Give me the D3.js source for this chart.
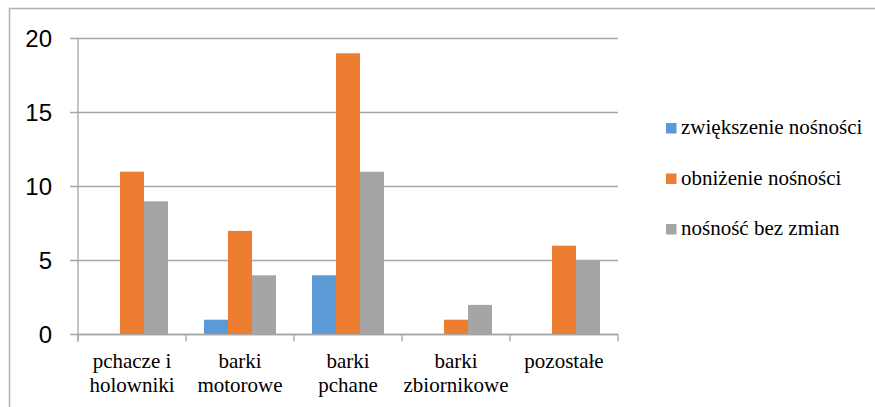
<!DOCTYPE html>
<html><head><meta charset="utf-8">
<script src="https://cdn.jsdelivr.net/npm/d3@7"></script>
<style>body{margin:0;background:#fff}svg{display:block}
.serif{font-family:"Liberation Serif","Tinos","Times New Roman","DejaVu Serif",serif;}
.sans{font-family:"Liberation Sans",Arial,sans-serif;}
</style>
</head><body>
<svg id="c" width="875" height="407"></svg>
<script>
const categories = [["pchacze i","holowniki"],["barki","motorowe"],["barki","pchane"],["barki","zbiornikowe"],["pozostałe"]];
const seriesNames = ["zwiększenie nośności","obniżenie nośności","nośność bez zmian"];
const zwiekszenie = [0,1,4,0,0];
const obnizenie = [11,7,19,1,6];
const bezZmian = [9,4,11,2,5];
const yTicks = [0,5,10,15,20];
const colors = ["#5B9BD5","#ED7D31","#A5A5A5"];
const series = [zwiekszenie, obnizenie, bezZmian];

const svg = d3.select("#c");
const L = 78, R = 618, T = 38.5, B = 334.5;
// outer frame
svg.append("path").attr("d","M9.5,407 V8.5 H875").attr("fill","none").attr("stroke","#b0b0b0").attr("stroke-width",1.5);

const x0 = d3.scaleBand().domain(d3.range(categories.length)).range([L,R]).paddingInner(0).paddingOuter(0);
const x1 = d3.scaleBand().domain(d3.range(series.length)).range([18, x0.bandwidth()-18]).padding(0);
const y = d3.scaleLinear().domain([0,20]).range([B,T]);

// gridlines
svg.append("g").selectAll("line").data(yTicks).join("line")
  .attr("x1",70).attr("x2",R).attr("y1",d=>y(d)).attr("y2",d=>y(d))
  .attr("stroke","#a6a6a6").attr("stroke-width",1.3);
// y axis line
svg.append("line").attr("x1",L).attr("x2",L).attr("y1",T).attr("y2",B+7).attr("stroke","#a6a6a6").attr("stroke-width",1.3);
// y labels
svg.append("g").selectAll("text").data(yTicks).join("text")
  .attr("class","sans")
  .attr("x",52).attr("y",d=>y(d)+8.5).attr("text-anchor","end")
  .attr("font-size",24).attr("fill","#000")
  .text(d=>d);

// bars
series.forEach((vals,si)=>{
  svg.append("g").selectAll("rect").data(vals).join("rect")
    .attr("x",(d,i)=>x0(i)+x1(si)).attr("width",x1.bandwidth())
    .attr("y",d=>y(d)).attr("height",d=>B-y(d))
    .attr("fill",colors[si]);
});

// x axis ticks
const bounds = d3.range(categories.length+1).map(i=> i<categories.length ? x0(i) : R);
svg.append("g").selectAll("line").data(bounds).join("line")
  .attr("x1",d=>d).attr("x2",d=>d).attr("y1",B).attr("y2",B+7)
  .attr("stroke","#a6a6a6").attr("stroke-width",1.3);
svg.append("line").attr("x1",L).attr("x2",R).attr("y1",B).attr("y2",B).attr("stroke","#a6a6a6").attr("stroke-width",1.3);

// x labels
const xl = svg.append("g").selectAll("text").data(categories).join("text")
  .attr("class","serif").attr("text-anchor","middle")
  .attr("font-size",21).attr("fill","#000");
xl.each(function(lines,i){
  const t = d3.select(this);
  lines.forEach((ln,k)=>{
    t.append("tspan").attr("x",x0(i)+x0.bandwidth()/2).attr("y",368+k*24).text(ln);
  });
});

// legend
const lg = svg.append("g").selectAll("g").data(seriesNames).join("g")
  .attr("transform",(d,i)=>`translate(666,${134+i*50.5})`);
lg.append("rect").attr("x",0).attr("y",-11).attr("width",10.5).attr("height",10.5).attr("fill",(d,i)=>colors[i]);
lg.append("text").attr("class","serif").attr("x",15).attr("y",0)
  .attr("font-size",21).attr("fill","#000")
  .text(d=>d);
</script>
</body></html>
